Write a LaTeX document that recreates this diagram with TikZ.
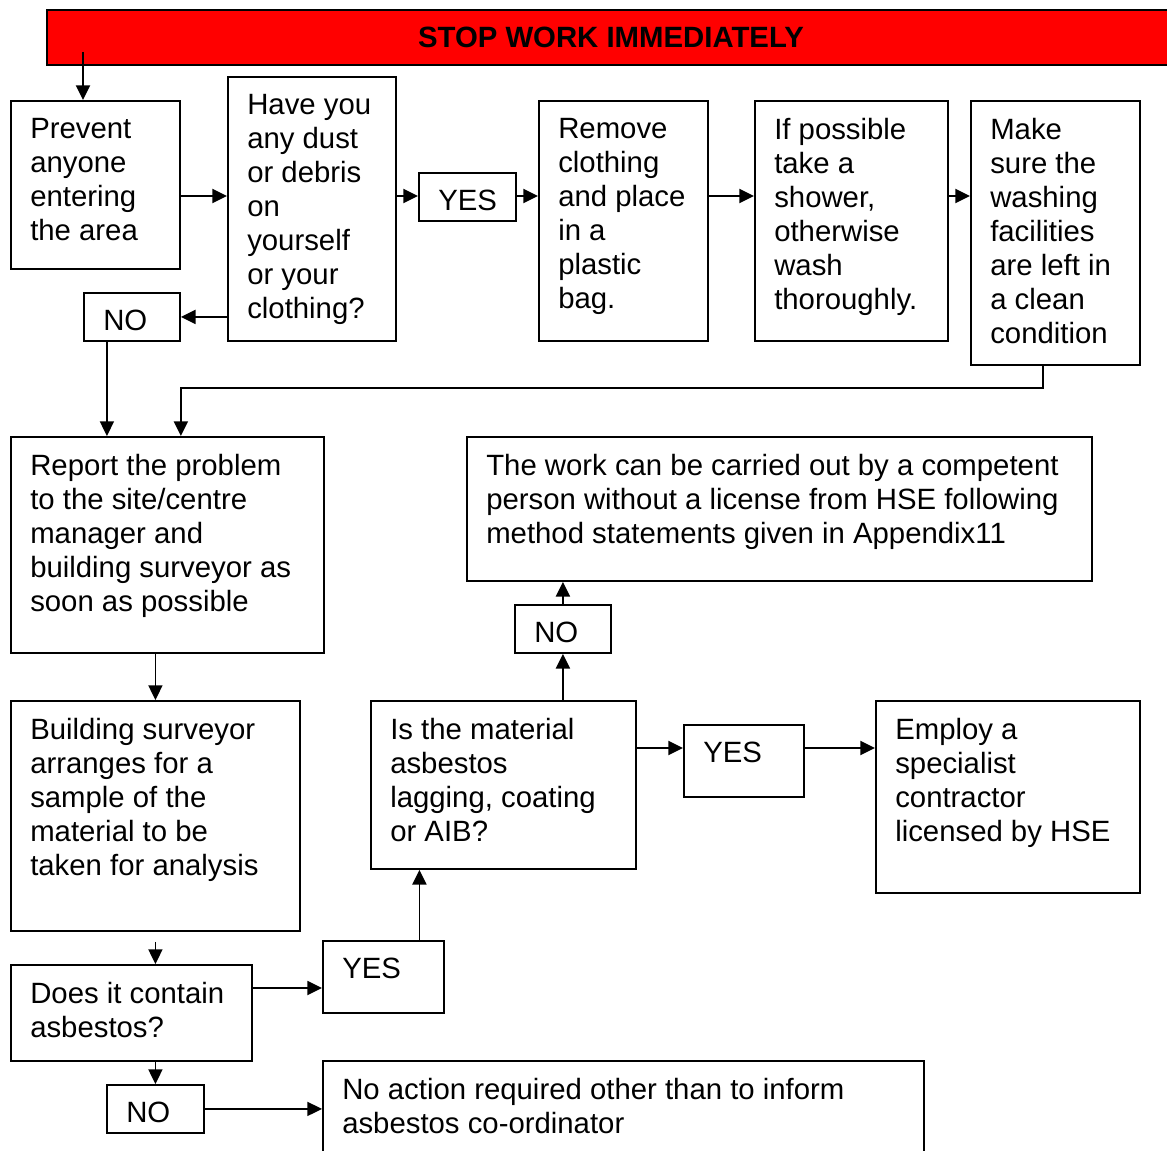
\documentclass[tikz,border=0pt]{standalone}
\usepackage{fontspec}
\setmainfont{Liberation Sans}
\usetikzlibrary{arrows.meta}

\begin{document}
\begin{tikzpicture}[x=0.75pt, y=-0.75pt, line width=1.4pt, font=\fontsize{22}{25.5}\selectfont,
    box/.style 2 args={draw, rectangle, anchor=north west, inner sep=0pt, minimum width=#1*0.75pt, minimum height=#2*0.75pt},
    txt/.style={anchor=north west, align=left, inner sep=0pt, xshift=14.5pt, yshift=-13.1pt},
    arr/.style={-{Triangle[length=11pt, width=10.5pt]}}]

    \useasboundingbox (0,0) rectangle (1167,1151);

    % banner
    \node[box={1128}{55}, fill=red, font=\fontsize{22}{25.5}\selectfont\bfseries] (stop) at (46,9) {STOP WORK IMMEDIATELY};

    % top row
    \node[box={169}{168}, label={[txt]north west:{Prevent\\anyone\\entering\\the area}}] (prevent) at (10,100) {};
    \node[box={168}{264}, label={[txt]north west:{Have you\\any dust\\or debris\\on\\yourself\\or your\\clothing?}}] (have) at (227,76) {};
    \node[box={96}{48}, label={[txt]north west:NO}] (no1) at (83,292) {};
    \node[box={97}{48}, label={[txt]north west:YES}] (yes1) at (418,172) {};
    \node[box={169}{240}, label={[txt]north west:{Remove\\clothing\\and place\\in a\\plastic\\bag.}}] (remove) at (538,100) {};
    \node[box={193}{240}, label={[txt]north west:{If possible\\take a\\shower,\\otherwise\\wash\\thoroughly.}}] (shower) at (754,100) {};
    \node[box={169}{264}, label={[txt]north west:{Make\\sure the\\washing\\facilities\\are left in\\a clean\\condition}}] (clean) at (970,100) {};

    % middle
    \node[box={313}{216}, label={[txt]north west:{Report the problem\\to the site/centre\\manager and\\building surveyor as\\soon as possible}}] (report) at (10,436) {};
    \node[box={625}{144}, label={[txt]north west:{The work can be carried out by a competent\\person without a license from HSE following\\method statements given in Appendix11}}] (work) at (466,436) {};
    \node[box={96}{48}, label={[txt]north west:NO}] (no2) at (514,604) {};
    \node[box={289}{230}, label={[txt]north west:{Building surveyor\\arranges for a\\sample of the\\material to be\\taken for analysis}}] (building) at (10,700) {};
    \node[box={265}{168}, label={[txt]north west:{Is the material\\asbestos\\lagging, coating\\or AIB?}}] (material) at (370,700) {};
    \node[box={120}{72}, label={[txt]north west:YES}] (yes3) at (683,724) {};
    \node[box={264}{192}, label={[txt]north west:{Employ a\\specialist\\contractor\\licensed by HSE}}] (employ) at (875,700) {};

    % bottom
    \node[box={241}{96}, label={[txt]north west:{Does it contain\\asbestos?}}] (does) at (10,964) {};
    \node[box={121}{72}, label={[txt]north west:YES}] (yes2) at (322,940) {};
    \node[box={97}{48}, label={[txt]north west:NO}] (no3) at (106,1084) {};
    \node[box={601}{120}, label={[txt]north west:{No action required other than to inform\\asbestos co-ordinator}}] (none) at (322,1060) {};

    \coordinate (go) at (83,52);
    \coordinate (row) at (0,196);
    \coordinate (mid) at (0,748);
    \coordinate (low) at (0,988);
    \coordinate (back) at (1043,388);

    % connectors
    \draw[arr] (go) -- (go |- prevent.north);
    \draw[arr] (prevent.east |- row) -- (have.west |- row);
    \draw[arr] (have.east |- row) -- (yes1.west |- row);
    \draw[arr] (yes1.east |- row) -- (remove.west |- row);
    \draw[arr] (remove.east |- row) -- (shower.west |- row);
    \draw[arr] (shower.east |- row) -- (clean.west |- row);
    \draw[arr] (have.west |- no1.east) -- (no1.east);
    \draw[arr] ([xshift=-18.75pt]no1.south) -- ([xshift=-18.75pt]no1.south |- report.north);
    \draw[arr] (back |- clean.south) -- (back) -| (no1.east |- report.north);
    \draw[arr] (report.south -| building.north) -- (building.north);
    \draw[arr] ([yshift=-7.5pt]building.south) -- (building.south |- does.north);
    \draw[arr] (does.east |- low) -- (yes2.west |- low);
    \draw[arr] ([xshift=27pt]yes2.north) -- ([xshift=27pt]yes2.north |- material.south);
    \draw[arr] (material.north -| no2.south) -- (no2.south);
    \draw[arr] (no2.north) -- (work.south -| no2.north);
    \draw[arr] (material.east |- mid) -- (yes3.west |- mid);
    \draw[arr] (yes3.east |- mid) -- (employ.west |- mid);
    \draw[arr] (does.south -| no3.north) -- (no3.north);
    \draw[arr] (no3.east) -- (none.west |- no3.east);

\end{tikzpicture}
\end{document}
